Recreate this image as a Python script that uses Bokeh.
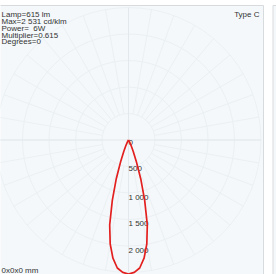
import numpy as np
from bokeh.plotting import figure
from bokeh.models import Range1d
from bokeh.embed import file_html
from bokeh.resources import INLINE
from bokeh.core.properties import value

# ---- data ----
gamma_deg = [0, 2.5, 5, 7.5, 10, 12.5, 15, 17.5, 20, 22.5, 25, 27.5, 30, 35, 40, 45, 60, 75, 90]
intensity_cd = [2531, 2500, 2425, 2250, 1990, 1640, 1180, 770, 430, 230, 120, 60, 30, 8, 2, 0, 0, 0, 0]
ring_values = [500, 1000, 1500, 2000, 2500]
label_values = [0, 500, 1000, 1500, 2000]
label_texts = ["0", "500", "1 000", "1 500", "2 000"]
info_lines = ["Lamp=615 lm", "Max=2 531 cd/klm", "Power=\u00a0 6W", "Multiplier=0.615", "Degrees=0"]
type_label = "Type C"
size_label = "0x0x0 mm"

# ---- layout (page pixels -> data) ----
K = 18.87            # cd per pixel
CX, CY = 128, 139.5  # centre of the diagram on the page
W, H = 276, 274

def px(x):
    return (x - CX) * K

def py(y):
    return (CY - y) * K

p = figure(width=W, height=H, output_backend="svg", toolbar_location=None,
           x_range=Range1d(px(0), px(W)), y_range=Range1d(py(H), py(0)),
           min_border=0, outline_line_color=None,
           background_fill_color="white", border_fill_color="white")
p.axis.visible = False
p.grid.visible = False

BG = "#f5f8fa"
EDGE = "#d8dbdd"
GRID = "#eaf0f3"
AXIS = "#e2e8ec"

# panels
p.quad(left=px(-20), right=px(263), top=py(5), bottom=py(320),
       fill_color=BG, line_color=EDGE, line_width=1)
p.quad(left=px(272.5), right=px(330), top=py(5), bottom=py(320),
       fill_color=BG, line_color=EDGE, line_width=1)

# rings
p.circle(x=[0] * len(ring_values), y=[0] * len(ring_values), radius=ring_values,
         fill_color=None, line_color=GRID, line_width=1)

# spokes
rmax = ring_values[-1]
angs = np.deg2rad(np.arange(0, 360, 10))
r0 = ring_values[0]
p.segment(x0=r0 * np.sin(angs), y0=r0 * np.cos(angs),
          x1=rmax * np.sin(angs), y1=rmax * np.cos(angs),
          line_color=GRID, line_width=1)
p.segment(x0=[0, -rmax], y0=[rmax, 0], x1=[0, rmax], y1=[-rmax, 0],
          line_color=AXIS, line_width=1)

# scale labels
FONT = value("Liberation Sans")
p.text(x=[0] * len(label_values), y=[-v for v in label_values], text=label_texts,
       text_font=FONT, text_font_size="8px", text_color="#333333",
       text_baseline="top", text_align="left")

# intensity curve (C0 / C180 mirrored)
g = np.deg2rad(np.array(gamma_deg))
I = np.array(intensity_cd, dtype=float)
gg = np.concatenate([-g[::-1], g[1:]])
II = np.concatenate([I[::-1], I[1:]])
p.line(x=II * np.sin(gg), y=-II * np.cos(gg), line_color="#e32020", line_width=1.7)

# info texts
ys = [14.2, 21.0, 27.8, 34.6, 41.4]
p.text(x=[px(1)] * len(info_lines), y=[py(v) for v in ys], text=info_lines,
       text_font=FONT, text_font_size="8px", text_color="#333333",
       text_baseline="alphabetic", text_align="left")
p.text(x=[px(259)], y=[py(14.2)], text=[type_label],
       text_font=FONT, text_font_size="8px", text_color="#333333",
       text_baseline="alphabetic", text_align="right")
p.text(x=[px(1)], y=[py(270)], text=[size_label],
       text_font=FONT, text_font_size="8px", text_color="#333333",
       text_baseline="alphabetic", text_align="left")

open("out.html", "w").write(file_html(p, INLINE))
